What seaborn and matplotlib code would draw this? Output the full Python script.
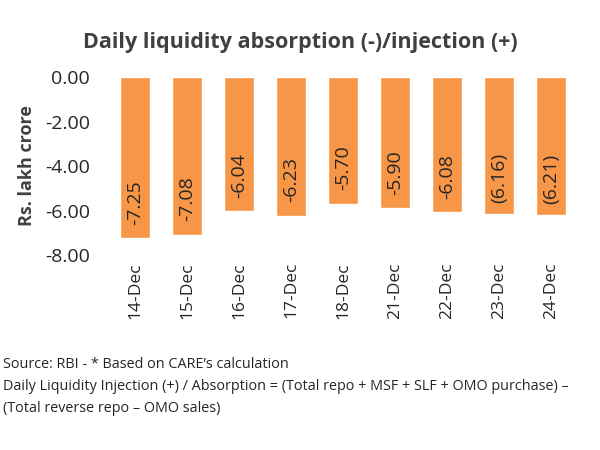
import matplotlib
matplotlib.use("Agg")
import matplotlib.pyplot as plt
import seaborn as sns
import pandas as pd

dates = ["14-Dec", "15-Dec", "16-Dec", "17-Dec", "18-Dec", "21-Dec", "22-Dec", "23-Dec", "24-Dec"]
values = [-7.25, -7.08, -6.04, -6.23, -5.70, -5.90, -6.08, -6.16, -6.21]
value_labels = ["-7.25", "-7.08", "-6.04", "-6.23", "-5.70", "-5.90", "-6.08", "(6.16)", "(6.21)"]
yticks = [0.0, -2.0, -4.0, -6.0, -8.0]

sns.set_theme(style="white")
plt.rcParams['font.family'] = ['Open Sans', 'DejaVu Sans']

df = pd.DataFrame({"date": dates, "value": values})

fig = plt.figure(figsize=(6, 4.5), dpi=100)
ax = fig.add_axes([0.182, 0.433, 0.78, 0.396])
sns.barplot(data=df, x="date", y="value", color="#F79646", saturation=1, width=0.58, ax=ax)

ax.set_ylim(-8, 0)
ax.set_yticks(yticks)
ax.set_yticklabels([f"{v:.2f}" for v in yticks], fontsize=14, color="#262626")
ax.tick_params(axis="x", labelrotation=90, labelsize=12.5, colors="#262626", pad=5, length=0)
ax.tick_params(axis="y", pad=14, length=0)
ax.set_xlabel("")
ax.set_ylabel("Rs. lakh crore", fontsize=13, fontweight="bold", color="#404040", labelpad=6)
for s in ax.spines.values():
    s.set_visible(False)

texts = ax.bar_label(ax.containers[0], labels=value_labels, label_type="edge", padding=-26,
                     rotation=90, fontsize=14, color="#262626")
for t in texts:
    t.set_va("center")

fig.text(0.5, 0.905, "Daily liquidity absorption (-)/injection (+)", ha="center", va="center",
         fontsize=15.5, fontweight="bold", color="#404040")

foot = ["Source: RBI - * Based on CARE\u2019s calculation",
        "Daily Liquidity Injection (+) / Absorption = (Total repo + MSF + SLF + OMO purchase) \u2013",
        "(Total reverse repo \u2013 OMO sales)"]
for i, t in enumerate(foot):
    fig.text(0.005, 1 - (365 + 21.5 * i) / 450, t, ha="left", va="center", fontsize=10.4, color="#262626")

fig.savefig("out.png", dpi=100)
